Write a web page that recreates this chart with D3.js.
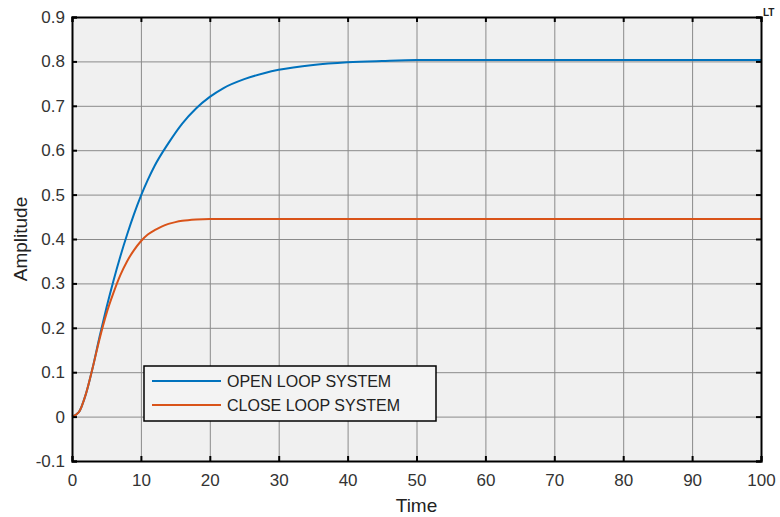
<!DOCTYPE html>
<html>
<head>
<meta charset="utf-8">
<script src="https://cdn.jsdelivr.net/npm/d3@7"></script>
<style>
  body { margin: 0; background: #fff; }
  text { font-family: "Liberation Sans", Arial, sans-serif; }
</style>
</head>
<body>
<script>
// step response samples
let timeOpen = [0, 1, 2, 3, 4, 5, 6, 7, 8, 9, 10, 11, 12, 14, 16, 18, 20, 22, 25, 28, 30, 35, 40, 45, 50, 60, 100];
let openLoop = [0, 0.01, 0.05, 0.11, 0.18, 0.245, 0.305, 0.36, 0.41, 0.456, 0.497, 0.533, 0.565, 0.616, 0.66, 0.694, 0.72, 0.74, 0.76, 0.774, 0.781, 0.792, 0.798, 0.801, 0.803, 0.803, 0.803];
let timeClose = [0, 1, 2, 3, 4, 5, 6, 7, 8, 9, 10, 11, 12, 13, 14, 15, 16, 18, 20, 100];
let closeLoop = [0, 0.01, 0.05, 0.11, 0.175, 0.232, 0.278, 0.318, 0.35, 0.375, 0.395, 0.41, 0.42, 0.428, 0.434, 0.438, 0.441, 0.444, 0.445, 0.445];
let xTicks = [0, 10, 20, 30, 40, 50, 60, 70, 80, 90, 100];
let yTicks = [-0.1, 0, 0.1, 0.2, 0.3, 0.4, 0.5, 0.6, 0.7, 0.8, 0.9];
let seriesNames = ['OPEN LOOP SYSTEM', 'CLOSE LOOP SYSTEM'];
let colors = ['#0072BD', '#D95319'];

let width = 780, height = 517;
let mLeft = 72, mRight = 761, mTop = 17, mBottom = 461;

let svg = d3.select('body').append('svg')
    .attr('width', width)
    .attr('height', height);

let x = d3.scaleLinear().domain([0, 100]).range([mLeft, mRight]);
let y = d3.scaleLinear().domain([-0.1, 0.9]).range([mBottom, mTop]);

svg.append('rect')
    .attr('x', mLeft).attr('y', mTop)
    .attr('width', mRight - mLeft).attr('height', mBottom - mTop)
    .attr('fill', '#f0f0f0');

// grid
svg.append('g')
    .attr('transform', `translate(0,${mBottom})`)
    .call(d3.axisBottom(x).tickValues(xTicks).tickSize(-(mBottom - mTop)).tickFormat(''))
    .call(g => g.select('.domain').remove())
    .call(g => g.selectAll('line').attr('stroke', '#8a8a8a'));
svg.append('g')
    .attr('transform', `translate(${mLeft},0)`)
    .call(d3.axisLeft(y).tickValues(yTicks).tickSize(-(mRight - mLeft)).tickFormat(''))
    .call(g => g.select('.domain').remove())
    .call(g => g.selectAll('line').attr('stroke', '#8a8a8a'));

// lines
let line = d3.line()
    .x(d => x(d[0]))
    .y(d => y(d[1]))
    .curve(d3.curveMonotoneX);

let series = [
    d3.zip(timeOpen, openLoop),
    d3.zip(timeClose, closeLoop)
];

svg.selectAll('.series')
    .data(series)
    .join('path')
    .attr('class', 'series')
    .attr('d', line)
    .attr('fill', 'none')
    .attr('stroke', (_, i) => colors[i])
    .attr('stroke-width', 2);

// axes with inward ticks
let axes = svg.append('g');
axes.append('g')
    .attr('transform', `translate(0,${mBottom})`)
    .call(d3.axisBottom(x).tickValues(xTicks).tickSize(-5).tickPadding(13));
axes.append('g')
    .attr('transform', `translate(${mLeft},0)`)
    .call(d3.axisLeft(y).tickValues(yTicks).tickSize(-5).tickPadding(7)
        .tickFormat(d => +d.toFixed(1)));
axes.append('g')
    .attr('transform', `translate(0,${mTop})`)
    .call(d3.axisTop(x).tickValues(xTicks).tickSize(-5).tickFormat(''));
axes.append('g')
    .attr('transform', `translate(${mRight},0)`)
    .call(d3.axisRight(y).tickValues(yTicks).tickSize(-5).tickFormat(''));

axes.selectAll('.domain').attr('stroke', '#000').attr('stroke-width', 2);
axes.selectAll('.tick line').attr('stroke', '#000').attr('stroke-width', 2);
axes.selectAll('.tick text')
    .attr('font-size', 17)
    .attr('fill', '#333')
    .style('font-family', '"Liberation Sans", Arial, sans-serif');

// axis titles
svg.append('text')
    .attr('x', (mLeft + mRight) / 2)
    .attr('y', 512)
    .attr('text-anchor', 'middle')
    .attr('font-size', 19)
    .attr('fill', '#222')
    .text('Time');
svg.append('text')
    .attr('transform', `translate(27,${(mTop + mBottom) / 2}) rotate(-90)`)
    .attr('text-anchor', 'middle')
    .attr('font-size', 19)
    .attr('fill', '#222')
    .text('Amplitude');

svg.append('text')
    .attr('x', 763).attr('y', 16)
    .attr('font-size', 10)
    .attr('font-weight', 'bold')
    .attr('fill', '#222')
    .text('LT');

// legend
let legend = svg.append('g').attr('transform', 'translate(144,366)');
legend.append('rect')
    .attr('width', 292).attr('height', 55)
    .attr('fill', '#f3f3f3')
    .attr('stroke', '#000')
    .attr('stroke-width', 1.5);
seriesNames.forEach((name, i) => {
    let ly = 15 + i * 24;
    legend.append('line')
        .attr('x1', 8).attr('x2', 77)
        .attr('y1', ly).attr('y2', ly)
        .attr('stroke', colors[i])
        .attr('stroke-width', 2);
    legend.append('text')
        .attr('x', 83).attr('y', ly + 6)
        .attr('font-size', 16)
        .attr('fill', '#222')
        .text(name);
});
</script>
</body>
</html>
